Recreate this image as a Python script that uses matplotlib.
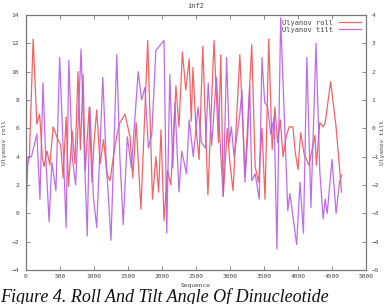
import matplotlib
matplotlib.use('Agg')
import matplotlib.pyplot as plt

# values (roll on left axis, tilt on right axis)
roll_seq = [0, 50, 105, 160, 200, 240, 265, 310, 350, 400, 470, 510, 545, 590, 625, 680, 720, 765, 800, 840,
            870, 930, 970, 1000, 1040, 1090, 1140, 1190, 1235, 1300, 1370, 1455, 1530, 1570, 1620, 1690, 1790,
            1860, 1910, 1950, 1985, 2030, 2080, 2130, 2205, 2250, 2300, 2350, 2400, 2430, 2455, 2500, 2545,
            2600, 2675, 2765, 2830, 2865, 2900, 2960, 3000, 3045, 3100, 3145, 3220, 3320, 3370, 3420, 3470,
            3515, 3570, 3620, 3660, 3700, 3740, 3780, 3830, 3870, 3925, 3960, 4000, 4040, 4090, 4160, 4250,
            4270, 4320, 4370, 4400, 4480, 4560, 4640]
roll = [3.0, 4.0, 12.3, 6.3, 7.0, 4.0, 3.3, 4.4, 3.4, 6.1, 5.2, 4.8, 2.5, 6.8, 1.9, 5.8, 3.5, 10.0, 4.5, 9.8,
        3.0, 7.5, 2.2, 5.0, 7.3, 3.5, 5.2, 2.8, 2.3, 4.5, 6.3, 7.0, 5.4, 2.5, 6.4, 0.3, 12.2,
        1.0, 4.0, 1.5, 5.9, -0.5, 3.0, 2.0, 9.0, 6.1, 11.4, 8.7, 10.9, 6.5, 10.3, 6.0, 3.8,
        11.8, 1.3, 12.2, 5.0, 11.2, 1.2, 6.0, 3.5, 1.6, 7.0, 11.2, 2.6, 11.9, 3.3, 2.2, 6.0,
        1.0, 12.3, 4.5, 7.5, 5.0, 6.6, 4.0, 5.5, 6.1, 6.1, 4.3, 3.1, 5.7, 4.2, 3.4, 5.5,
        3.4, 6.4, 6.1, 6.4, 9.3, 6.1, 1.5]

tilt_seq = [0, 30, 80, 160, 205, 250, 290, 340, 380, 440, 495, 540, 590, 630, 680, 730, 810, 860, 900, 940,
            990, 1040, 1130, 1180, 1250, 1335, 1380, 1430, 1490, 1550, 1650, 1700, 1750, 1800, 1850, 1910,
            1960, 2030, 2070, 2115, 2160, 2190, 2250, 2290, 2360, 2400, 2460, 2530, 2580, 2640, 2680, 2730,
            2800, 2900, 2950, 2990, 3020, 3060, 3145, 3175, 3220, 3260, 3290, 3320, 3370, 3430, 3470, 3510,
            3550, 3600, 3650, 3690, 3745, 3850, 3880, 3920, 3980, 4030, 4080, 4130, 4190, 4265, 4320, 4370,
            4400, 4430, 4500, 4560, 4610, 4645]
tilt = [-3.2, -1.0, -1.0, -0.2, -2.5, 1.6, -1.0, -3.3, -1.2, -2.2, 2.5, -0.3, -3.5, 2.4, -1.0, -2.0, 2.8, -1.0, -3.8, 0.75,
        -2.4, -3.5, 1.8, -1.2, -3.95, 2.6, -1.0, -3.4, -0.3, -1.4, 2.0, 1.0, 1.45, -0.7, -0.2, 2.75,
        2.9, 3.1, -3.7, 1.9, -1.4, 0.9, -2.25, -0.8, -1.6, 0.3, -1.0, 0.75, -0.5, -0.7, 1.6, -0.6,
        1.8, -2.4, 2.5, -0.5, 0.05, -1.0, 0.5, 1.35, -1.9, -0.3, 1.5, -1.85, -1.6, -2.5, 2.5, 0.9,
        0.8, -0.2, 0.4, -4.26, 3.9, -2.9, -2.3, -3.0, -4.1, -1.9, -3.7, 2.5, -2.8, 3.0, -1.5, -3.2,
        -2.5, -3.0, -1.1, -3.0, -1.9, -1.65]

xticks = [0, 500, 1000, 1500, 2000, 2500, 3000, 3500, 4000, 4500, 5000]
yticks_left = [-4, -2, 0, 2, 4, 6, 8, 10, 12, 14]
yticks_right = [-5, -4, -3, -2, -1, 0, 1, 2, 3, 4]

roll_color = '#f26464'
tilt_color = '#b85ce6'
txt_color = '#444444'
mono = 'DejaVu Sans Mono'

fig = plt.figure(figsize=(3.88, 3.04), dpi=100)
ax = fig.add_axes([26 / 388, 1 - 270 / 304, 340 / 388, 255 / 304])
ax2 = ax.twinx()

l1, = ax.plot(roll_seq, roll, color=roll_color, lw=0.9, label='Ulyanov roll')
l2, = ax2.plot(tilt_seq, tilt, color=tilt_color, lw=0.9, alpha=0.9, label='Ulyanov tilt')

ax.set_xlim(0, 5000)
ax.set_ylim(-4, 14)
ax2.set_ylim(-5, 4)
ax.set_xticks(xticks)
ax.set_yticks(yticks_left)
ax2.set_yticks(yticks_right)

for a in (ax, ax2):
    for s in a.spines.values():
        s.set_color('#777777')
        s.set_linewidth(0.8)
ax.tick_params(axis='x', direction='in', top=True, length=3, width=0.6, colors='#777777',
               labelsize=4.5, labelcolor=txt_color, pad=3)
ax.tick_params(axis='y', direction='in', length=3, width=0.6, colors='#777777',
               labelsize=4.5, labelcolor=txt_color, pad=5)
ax2.tick_params(axis='y', direction='in', length=3, width=0.6, colors='#777777',
                labelsize=4.5, labelcolor=txt_color, pad=4)
for lab in ax.get_xticklabels() + ax.get_yticklabels() + ax2.get_yticklabels():
    lab.set_family(mono)

ax.set_xlabel('Sequence', fontsize=4.5, family=mono, color=txt_color, labelpad=3)
ax.set_ylabel('Ulyanov roll', fontsize=4.5, family=mono, color=txt_color, labelpad=3)
ax2.set_ylabel('Ulyanov tilt', fontsize=4.5, family=mono, color=txt_color, rotation=90, labelpad=1)
ax.set_title('inf2', fontsize=5, family=mono, color=txt_color, pad=5)

leg = ax.legend(handles=[l1, l2], loc='upper right', frameon=False, markerfirst=False,
                prop={'family': mono, 'size': 5}, handlelength=3.2, handletextpad=0.8,
                labelspacing=0.1, borderaxespad=0.3)
for t in leg.get_texts():
    t.set_color(txt_color)

fig.text(0.0, 1 - 288 / 304, 'Figure 4. Roll And Tilt Angle Of Dinucleotide',
         fontsize=13, family='Liberation Serif', style='italic', va='top', ha='left', color='#111111')

fig.savefig('out.png', dpi=100)
